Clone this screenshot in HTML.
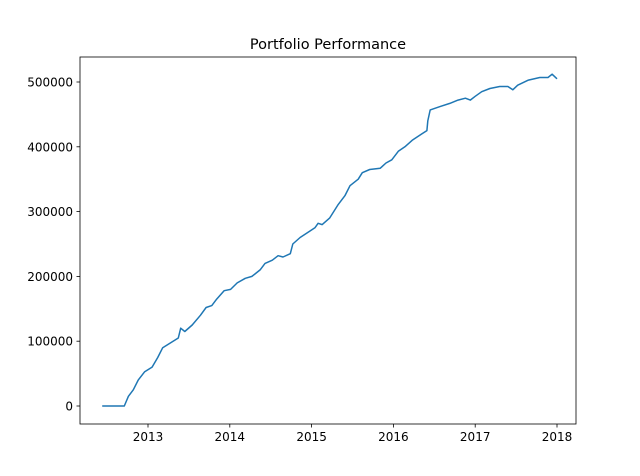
<!DOCTYPE html>
<html><head><meta charset="utf-8"><style>
body{margin:0;background:#fff}
svg{display:block;font-family:"DejaVu Sans","Liberation Sans",sans-serif}
</style></head><body>
<svg id="chart" width="640" height="476" viewBox="0 0 640 476">
<rect width="640" height="476" fill="#fff"/>
<text x="328" y="49" text-anchor="middle" font-size="14.5">Portfolio Performance</text>
<g id="plot"></g>
</svg>
<script>
const dates=[2012.44,2012.71,2012.76,2012.82,2012.88,2012.96,2013.05,2013.12,2013.18,2013.27,2013.37,2013.40,2013.45,2013.54,2013.64,2013.71,2013.78,2013.84,2013.93,2014.01,2014.09,2014.19,2014.27,2014.37,2014.43,2014.52,2014.59,2014.65,2014.74,2014.77,2014.86,2014.98,2015.04,2015.08,2015.13,2015.22,2015.32,2015.41,2015.47,2015.57,2015.62,2015.71,2015.84,2015.91,2015.98,2016.06,2016.14,2016.23,2016.35,2016.41,2016.42,2016.45,2016.57,2016.69,2016.79,2016.88,2016.94,2017.00,2017.08,2017.18,2017.30,2017.40,2017.46,2017.52,2017.65,2017.79,2017.89,2017.94,2018.00];
const values=[0,0,15000,25000,40000,53000,60000,75000,90000,97000,105000,120000,115000,125000,140000,152000,155000,165000,178000,180000,190000,197000,200000,210000,220000,225000,232000,230000,235000,250000,260000,270000,275000,282000,280000,290000,310000,325000,340000,350000,360000,365000,367000,375000,380000,393000,400000,410000,420000,425000,440000,457000,462000,467000,472000,475000,472000,478000,485000,490000,493000,493000,488000,495000,503000,507000,507000,512000,505000];
const xTicks=[2013,2014,2015,2016,2017,2018];
const yTicks=[0,100000,200000,300000,400000,500000];
const L=80,R=576,T=57,B=424;
const x=v=>148+(v-2013)*81.8;
const y=v=>406-v/100000*64.8;
const g=document.getElementById('plot');
const NS='http://www.w3.org/2000/svg';
function mk(t,a){const e=document.createElementNS(NS,t);for(const k in a)e.setAttribute(k,a[k]);g.appendChild(e);return e;}
const frame=mk('rect',{x:L,y:T,width:R-L,height:B-T,fill:'none',stroke:'#000','stroke-width':0.8});


let d='';
dates.forEach((t,i)=>{d+=(i?'L':'M')+x(t).toFixed(1)+','+y(values[i]).toFixed(1);});
const line=mk('path',{d:d,fill:'none',stroke:'#1f77b4','stroke-width':1.5,'stroke-linejoin':'round'});


xTicks.forEach(t=>{
  const tk=mk('line',{x1:x(t),x2:x(t),y1:B,y2:B+3.5,stroke:'#000','stroke-width':0.8});
  
  
  const lb=mk('text',{x:x(t),y:B+17,'text-anchor':'middle','font-size':12});
  lb.textContent=t;
  
  
});
yTicks.forEach(v=>{
  const tk=mk('line',{x1:L-3.5,x2:L,y1:y(v),y2:y(v),stroke:'#000','stroke-width':0.8});
  
  
  const lb=mk('text',{x:L-7,y:y(v)+4.5,'text-anchor':'end','font-size':12});
  lb.textContent=v;
  
  
});
</script>
</body></html>
